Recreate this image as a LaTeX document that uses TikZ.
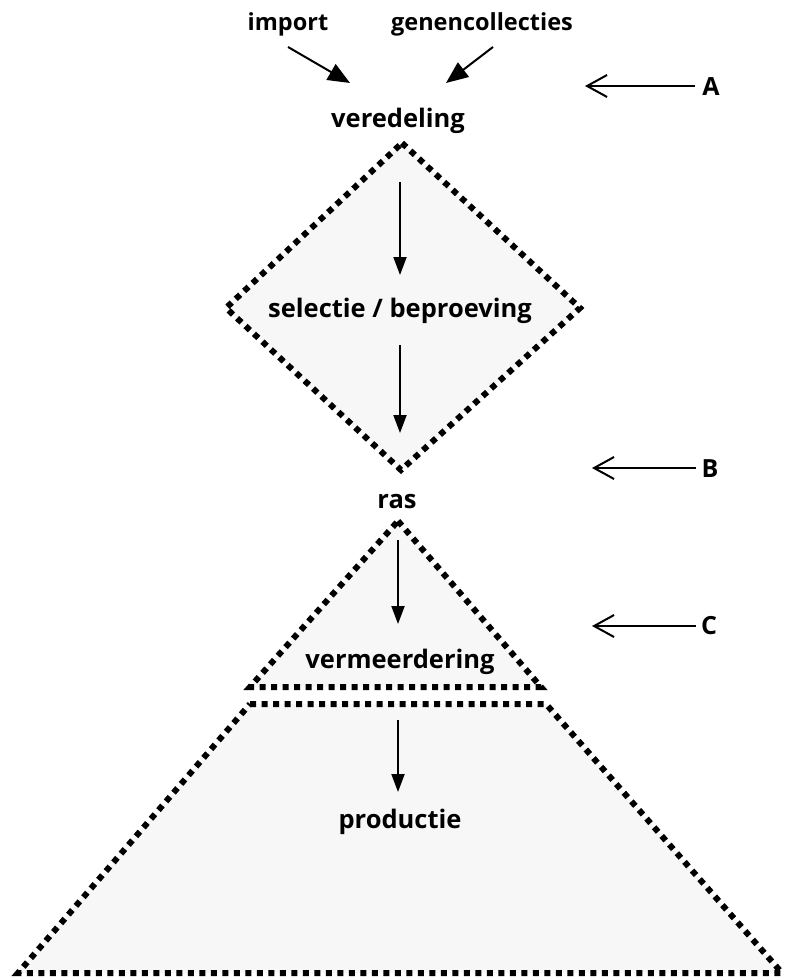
\documentclass[tikz,border=0pt]{standalone}
\usepackage{fontspec}
\setmainfont{Open Sans}
\usetikzlibrary{arrows.meta}
\begin{document}
\begin{tikzpicture}[x=1pt,y=-1pt,
  lbl/.style={font=\fontsize{25.5}{28}\selectfont\bfseries, anchor=base, inner sep=0pt},
  toplbl/.style={font=\fontsize{23.5}{26}\selectfont\bfseries, anchor=base, inner sep=0pt},
  letter/.style={font=\fontsize{25}{28}\selectfont\bfseries, anchor=base, inner sep=0pt},
  dotline/.style={line width=6pt, dash pattern=on 6pt off 5.5pt, fill=black!3},
  flow/.style={line width=2pt, -{Triangle[length=18pt,width=13pt]}},
  inflow/.style={line width=2pt, -{Triangle[length=22pt,width=18pt]}},
  pointer/.style={line width=2pt, -{Straight Barb[length=20pt,width=22pt,line width=2pt]}}]
\useasboundingbox (0,0) rectangle (785,979);
% shapes
\draw[dotline] (402,143) -- (580,308) -- (401,470) -- (226,308) -- cycle;
\draw[dotline] (398,521) -- (541,687) -- (250,687) -- cycle;
\draw[dotline] (250,704) -- (546,704) -- (782,973) -- (18,973) -- cycle;
% labels
\node[toplbl] (imp) at (288,31) {import};
\node[toplbl] (gen) at (482,31) {genencollecties};
\node[lbl] (ver) at (398,128) {veredeling};
\node[lbl] (sel) at (400,317) {selectie / beproeving};
\node[lbl] (ras) at (397,508) {ras};
\node[lbl] (vme) at (400,668) {vermeerdering};
\node[lbl] (pro) at (400,828) {productie};
\node[letter] (A) at (711,96) {A};
\node[letter] (B) at (710,477) {B};
\node[letter] (C) at (709,634) {C};
% connector coordinates
\coordinate (impS) at (288,47);
\coordinate (impE) at (350,83);
\coordinate (genS) at (493,47);
\coordinate (genE) at (446,83);
\coordinate (d1s) at (400,182);
\coordinate (d1e) at (400,275);
\coordinate (d2s) at (400,345);
\coordinate (d2e) at (400,433);
\coordinate (t1s) at (398,540);
\coordinate (t1e) at (398,624);
\coordinate (p1s) at (398,720);
\coordinate (p1e) at (398,792);
\coordinate (Atip) at (585,86);
\coordinate (Btip) at (592,468);
\coordinate (Ctip) at (592,626);
\coordinate (As) at ([xshift=-7pt]A.west |- Atip);
\coordinate (Bs) at ([xshift=-5pt]B.west |- Btip);
\coordinate (Cs) at ([xshift=-5pt]C.west |- Ctip);
% connectors
\draw[inflow] (impS) -- (impE);
\draw[inflow] (genS) -- (genE);
\draw[flow] (d1s) -- (d1e);
\draw[flow] (d2s) -- (d2e);
\draw[flow] (t1s) -- (t1e);
\draw[flow] (p1s) -- (p1e);
\draw[pointer] (As) -- (Atip);
\draw[pointer] (Bs) -- (Btip);
\draw[pointer] (Cs) -- (Ctip);
\end{tikzpicture}
\end{document}
